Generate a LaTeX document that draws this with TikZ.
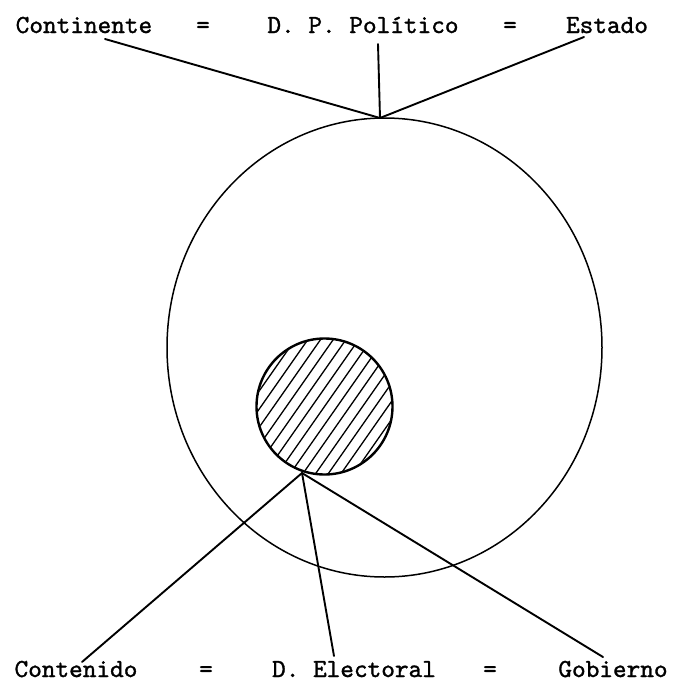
\documentclass[tikz,border=0pt]{standalone}
\usepackage{fontspec}
\newfontfamily\twfont[FakeBold=1.2]{lmmono10-regular.otf}
\usetikzlibrary{shapes.geometric,calc}
\begin{document}
\begin{tikzpicture}[x=1pt,y=-1pt,
  lbl/.style={anchor=base,inner sep=0pt,font=\twfont\fontsize{26}{30}\selectfont},
  conn/.style={line width=1.9pt,line cap=round},
  outer/.style={draw,ellipse,line width=1.5pt,inner sep=0pt,minimum width=435pt,minimum height=459pt},
  inner/.style={draw,circle,line width=2.4pt,inner sep=0pt,minimum size=136pt},
  hatch/.style={line width=1.3pt}]
\useasboundingbox (0,0) rectangle (676,688);
% top labels
\node[lbl] (cont) at (84,33) {Continente};
\node[lbl] (eqa) at (203,33) {=};
\node[lbl] (dpp) at (363,33) {D. P. Político};
\node[lbl] (eqb) at (510,33) {=};
\node[lbl] (est) at (607,33) {Estado};
% bottom labels
\node[lbl] (contd) at (76,677) {Contenido};
\node[lbl] (eqc) at (206,677) {=};
\node[lbl] (del) at (354,677) {D. Electoral};
\node[lbl] (eqd) at (490,677) {=};
\node[lbl] (gob) at (613,677) {Gobierno};
% circles
\node[outer] (big) at (384.5,347.5) {};
\node[inner] (small) at (324.5,406.5) {};
\begin{scope}
  \clip (324.5,406.5) circle (67pt);
  \foreach \k in {-9,...,9}{
    \draw[hatch] ($(324.5+\k*12.7,406.5)+(-120*0.5736,120*0.8192)$) -- ($(324.5+\k*12.7,406.5)+(120*0.5736,-120*0.8192)$);
  }
\end{scope}
% junctions and free ends
\coordinate (jt) at (380,118);
\coordinate (jb) at (302,473);
\coordinate (t1) at (105,39);
\coordinate (t2) at (378,44);
\coordinate (t3) at (584,37);
\coordinate (b1) at (82,662);
\coordinate (b2) at (334,656);
\coordinate (b3) at (603,657);
\draw[conn] (t1) -- (jt);
\draw[conn] (t2) -- (jt);
\draw[conn] (t3) -- (jt);
\draw[conn] (jb) -- (b1);
\draw[conn] (jb) -- (b2);
\draw[conn] (jb) -- (b3);
\end{tikzpicture}
\end{document}
